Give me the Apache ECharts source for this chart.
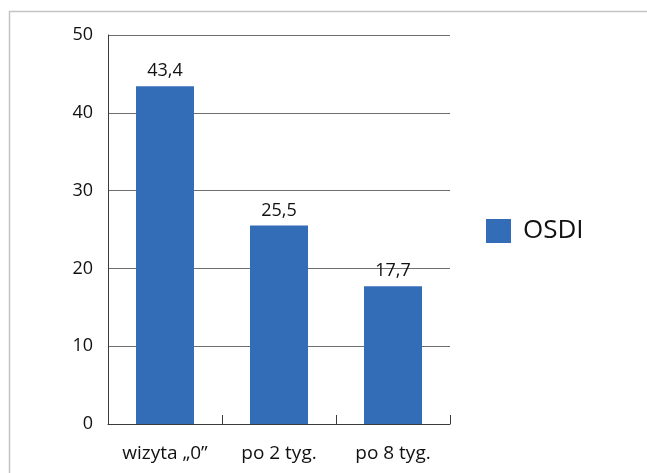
<!DOCTYPE html>
<html><head><meta charset="utf-8">
<script src="https://cdn.jsdelivr.net/npm/echarts@6/dist/echarts.min.js"></script>
<style>html,body{margin:0;padding:0;background:#fff}#c{width:647px;height:473px}</style>
</head><body><div id="c"></div>
<script>
const categories = ['wizyta \u201E0\u201D', 'po 2 tyg.', 'po 8 tyg.'];
const osdiValues = [43.4, 25.5, 17.7];
const seriesName = 'OSDI';
const yTicks = [0, 10, 20, 30, 40, 50];

const chart = echarts.init(document.getElementById('c'), null, {renderer: 'canvas'});
const font = '"Open Sans", "Noto Sans", sans-serif';
chart.setOption({
  animation: false,
  backgroundColor: '#ffffff',
  graphic: [
    {type: 'rect', shape: {x: 9.5, y: 11.5, width: 700, height: 500}, style: {fill: 'none', stroke: '#c4c4c4', lineWidth: 1.5}, silent: true, z: -1}
  ],
  grid: {left: 108, right: 197, top: 35, bottom: 49, containLabel: false},
  legend: {
    data: [seriesName], left: 481, top: 213, itemWidth: 25, itemHeight: 24, itemGap: 10,
    icon: 'rect',
    textStyle: {fontFamily: font, fontSize: 26, color: '#111', padding: [0, 0, 0, 7]}
  },
  xAxis: {
    type: 'category', data: categories,
    axisLine: {lineStyle: {color: '#3a3a3a', width: 1}},
    axisTick: {show: true, inside: true, length: 9, lineStyle: {color: '#3a3a3a'}},
    axisLabel: {fontFamily: font, fontSize: 19, color: '#111', margin: 20}
  },
  yAxis: {
    type: 'value', min: yTicks[0], max: yTicks[yTicks.length - 1], interval: 10,
    axisLine: {show: true, lineStyle: {color: '#3a3a3a', width: 1}},
    axisTick: {show: false},
    splitLine: {lineStyle: {color: '#6f6f6f', width: 1}},
    axisLabel: {fontFamily: font, fontSize: 18, color: '#111', margin: 15}
  },
  series: [{
    name: seriesName, type: 'bar', data: osdiValues, barWidth: 58,
    itemStyle: {color: '#346DB7'},
    label: {show: true, position: 'top', distance: 6, fontFamily: font, fontSize: 18, color: '#111',
      formatter: p => String(p.value).replace('.', ',')}
  }]
});
</script></body></html>
